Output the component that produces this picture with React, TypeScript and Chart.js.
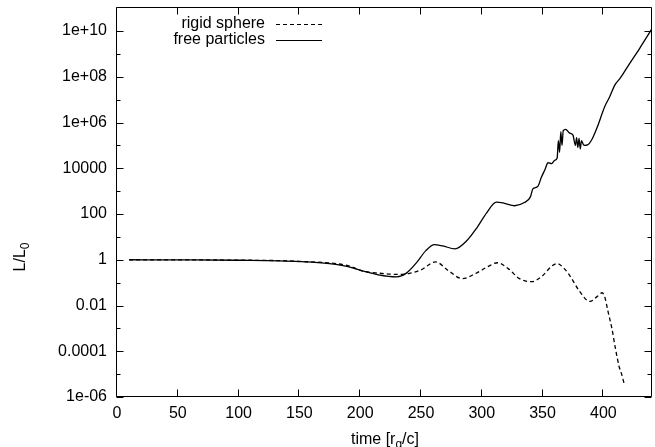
import React, { useEffect, useRef } from "react";
import { Chart, registerables } from "chart.js";

Chart.register(...registerables);

// ---- data ----
const rigidTime = [10, 100, 150, 190, 202, 215, 230, 240, 250, 262, 272, 284, 295, 305, 313, 322, 331, 341, 350, 357, 362, 368, 373, 380, 389, 395, 399, 401, 404, 407, 410, 413, 415, 417];
const rigidL = [1, 0.96, 0.85, 0.55, 0.32, 0.26, 0.23, 0.25, 0.36, 0.81, 0.35, 0.15, 0.25, 0.5, 0.74, 0.4, 0.15, 0.11, 0.2, 0.5, 0.68, 0.4, 0.18, 0.045, 0.015, 0.025, 0.036, 0.025, 0.005, 0.001, 1.26e-4, 2.1e-5, 1.0e-5, 4.0e-6];

const freeTime = [10, 50, 100, 150, 180, 190, 202, 215, 230, 238, 246, 254, 261, 268, 278, 288, 296, 304, 312, 318, 327, 335, 340, 342, 346, 349, 352, 354.5, 357.5, 360, 362, 363, 364, 365, 366, 367, 369, 372, 375, 377, 378, 379, 380, 381, 382, 384, 387, 391, 395, 401, 405, 409.5, 414, 420, 430, 440];
const freeL = [1, 0.99, 0.95, 0.83, 0.63, 0.5, 0.33, 0.22, 0.18, 0.26, 0.71, 2.5, 4.6, 4.0, 3.0, 7.1, 25, 112, 330, 300, 230, 316, 560, 1260, 1580, 4000, 8900, 17400, 15800, 22400, 28000, 1.6e5, 5.0e4, 4.0e5, 1.0e5, 4.4e5, 5.0e5, 3.5e5, 2.8e5, 1.0e5, 2.2e5, 8.0e4, 2.0e5, 7.0e4, 1.6e5, 1.0e5, 1.05e5, 2.0e5, 6.3e5, 4.8e6, 1.26e7, 4.4e7, 8.9e7, 2.8e8, 1.8e9, 1.26e10];

const xTickValues = [0, 50, 100, 150, 200, 250, 300, 350, 400];
const yTickValues = [1e-6, 1e-4, 1e-2, 1, 100, 1e4, 1e6, 1e8, 1e10];
const yTickLabels = ["1e-06", "0.0001", "0.01", "1", "100", "10000", "1e+06", "1e+08", "1e+10"];
const yMinorTickValues = [1e-5, 1e-3, 1e-1, 10, 1000, 1e5, 1e7, 1e9];
const seriesNames = ["rigid sphere", "free particles"];
const xTitle = ["time [r", "g", "/c]"];
const yTitle = ["L/L", "0"];

const FONT = '"Liberation Sans", Arial, Helvetica, sans-serif';
const DASH = [4, 3];

const framePlugin = {
  id: "gnuFrame",
  afterDatasetsDraw(chart: any) {
    const { ctx, chartArea: a, scales } = chart;
    const xs = scales.x;
    const ys = scales.y;
    const L = Math.floor(a.left) - 0.5;
    const R = Math.floor(a.right) - 0.5;
    const T = Math.floor(a.top) + 0.5;
    const B = Math.floor(a.bottom) - 0.5;
    ctx.save();
    ctx.strokeStyle = "#000";
    ctx.lineWidth = 1;
    ctx.setLineDash([]);
    ctx.beginPath();
    ctx.rect(L, T, R - L, B - T);
    for (const v of xTickValues) {
      const px = Math.round(xs.getPixelForValue(v)) - 0.5;
      ctx.moveTo(px, B);
      ctx.lineTo(px, B - 7);
      ctx.moveTo(px, T);
      ctx.lineTo(px, T + 7);
    }
    for (const v of yTickValues) {
      const py = Math.round(ys.getPixelForValue(v)) + 0.5;
      ctx.moveTo(L, py);
      ctx.lineTo(L + 7, py);
      ctx.moveTo(R, py);
      ctx.lineTo(R - 7, py);
    }
    for (const v of yMinorTickValues) {
      const py = Math.round(ys.getPixelForValue(v)) + 0.5;
      ctx.moveTo(L, py);
      ctx.lineTo(L + 4, py);
      ctx.moveTo(R, py);
      ctx.lineTo(R - 4, py);
    }
    ctx.stroke();

    // legend
    ctx.fillStyle = "#000";
    ctx.font = `16px ${FONT}`;
    ctx.textAlign = "right";
    ctx.textBaseline = "middle";
    const legendY = [24, 40];
    seriesNames.forEach((name, i) => {
      ctx.fillText(name, 265, legendY[i]);
      ctx.beginPath();
      ctx.lineWidth = 1.2;
      ctx.setLineDash(i === 0 ? DASH : []);
      ctx.moveTo(276, legendY[i] + 0.5);
      ctx.lineTo(322, legendY[i] + 0.5);
      ctx.stroke();
    });
    ctx.setLineDash([]);

    // x title with subscript
    ctx.textAlign = "left";
    ctx.textBaseline = "alphabetic";
    ctx.font = `16px ${FONT}`;
    const w1 = ctx.measureText(xTitle[0]).width;
    const w3 = ctx.measureText(xTitle[2]).width;
    ctx.font = `12px ${FONT}`;
    const w2 = ctx.measureText(xTitle[1]).width;
    const total = w1 + w2 + w3;
    const x0 = 385 - total / 2;
    const by = 444;
    ctx.font = `16px ${FONT}`;
    ctx.fillText(xTitle[0], x0, by);
    ctx.font = `12px ${FONT}`;
    ctx.fillText(xTitle[1], x0 + w1, by + 4);
    ctx.font = `16px ${FONT}`;
    ctx.fillText(xTitle[2], x0 + w1 + w2, by);

    // y title rotated with subscript
    ctx.save();
    ctx.translate(25, 257);
    ctx.rotate(-Math.PI / 2);
    ctx.font = `16px ${FONT}`;
    const yw1 = ctx.measureText(yTitle[0]).width;
    ctx.font = `12px ${FONT}`;
    const yw2 = ctx.measureText(yTitle[1]).width;
    const ys0 = -(yw1 + yw2) / 2;
    ctx.font = `16px ${FONT}`;
    ctx.fillText(yTitle[0], ys0, 0);
    ctx.font = `12px ${FONT}`;
    ctx.fillText(yTitle[1], ys0 + yw1, 4);
    ctx.restore();

    ctx.restore();
  },
};

export default function App() {
  const canvasRef = useRef<HTMLCanvasElement | null>(null);

  useEffect(() => {
    const canvas = canvasRef.current;
    if (!canvas) return;
    const chart = new Chart(canvas, {
      type: "line",
      data: {
        datasets: [
          {
            label: seriesNames[0],
            data: rigidTime.map((t, i) => ({ x: t, y: rigidL[i] })),
            borderColor: "#000",
            borderWidth: 1.3,
            borderDash: DASH,
            pointRadius: 0,
            fill: false,
            cubicInterpolationMode: "monotone",
          },
          {
            label: seriesNames[1],
            data: freeTime.map((t, i) => ({ x: t, y: freeL[i] })),
            borderColor: "#000",
            borderWidth: 1.3,
            pointRadius: 0,
            fill: false,
            cubicInterpolationMode: "monotone",
          },
        ],
      },
      options: {
        animation: false,
        responsive: false,
        devicePixelRatio: 1,
        layout: { padding: { left: 0, right: 3, top: 7, bottom: 0 } },
        plugins: {
          legend: { display: false },
          tooltip: { enabled: false },
        },
        scales: {
          x: {
            type: "linear",
            min: 0,
            max: 440,
            grid: { display: false, drawTicks: false },
            border: { display: false },
            afterBuildTicks: (scale: any) => {
              scale.ticks = xTickValues.map((v) => ({ value: v }));
            },
            afterFit: (scale: any) => {
              scale.height = 50;
              scale.paddingLeft = 0;
              scale.paddingRight = 0;
            },
            ticks: {
              autoSkip: false,
              maxRotation: 0,
              padding: 7,
              color: "#000",
              font: { family: FONT, size: 16 },
              callback: (v: any) => String(v),
            },
          },
          y: {
            type: "logarithmic",
            min: 1e-6,
            max: 1.12e11,
            grid: { display: false, drawTicks: false },
            border: { display: false },
            afterBuildTicks: (scale: any) => {
              scale.ticks = yTickValues.map((v) => ({ value: v }));
            },
            afterFit: (scale: any) => {
              scale.width = 117;
              scale.paddingTop = 0;
              scale.paddingBottom = 0;
            },
            ticks: {
              autoSkip: false,
              padding: 10,
              color: "#000",
              font: { family: FONT, size: 16 },
              callback: (v: any) => {
                const idx = yTickValues.findIndex((t) => Math.abs(Math.log10(t) - Math.log10(Number(v))) < 1e-6);
                return idx >= 0 ? yTickLabels[idx] : "";
              },
            },
          },
        },
      },
      plugins: [framePlugin],
    });
    return () => chart.destroy();
  }, []);

  return (
    <div style={{ position: "absolute", left: 0, top: 0, width: 655, height: 447, background: "#fff" }}>
      <canvas ref={canvasRef} width={655} height={447} style={{ width: 655, height: 447, display: "block" }} />
    </div>
  );
}
